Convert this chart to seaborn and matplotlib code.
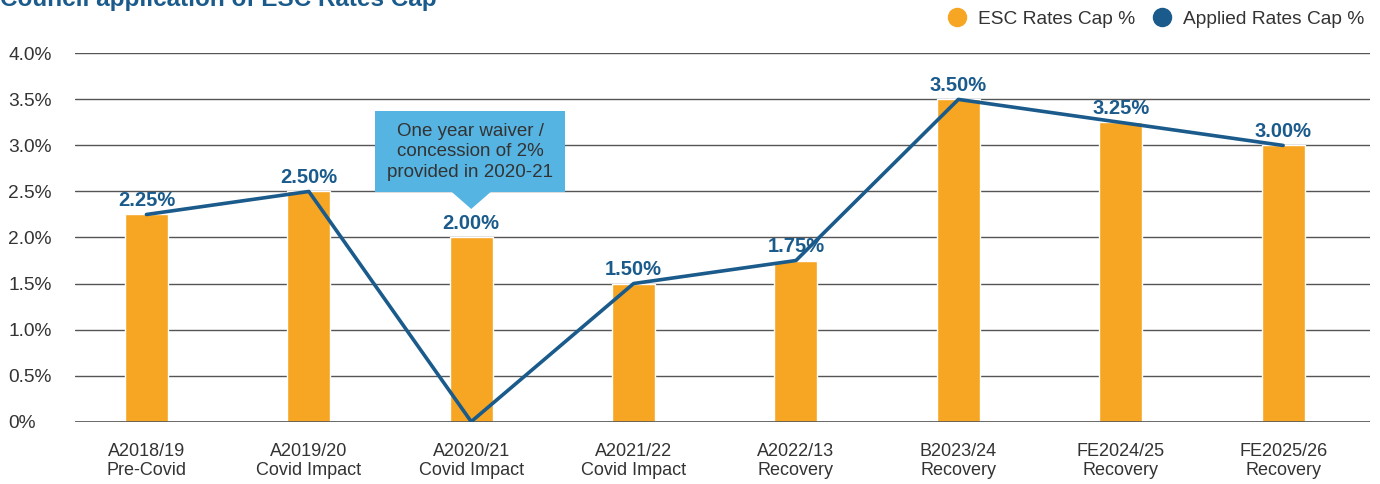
import numpy as np
import seaborn as sns
import matplotlib
matplotlib.use("Agg")
import matplotlib.pyplot as plt
from matplotlib.lines import Line2D
from matplotlib.patches import Rectangle, Polygon

years = ["A2018/19", "A2019/20", "A2020/21", "A2021/22",
         "A2022/13", "B2023/24", "FE2024/25", "FE2025/26"]
phases = ["Pre-Covid", "Covid Impact", "Covid Impact", "Covid Impact",
          "Recovery", "Recovery", "Recovery", "Recovery"]
esc_cap = [2.25, 2.50, 2.00, 1.50, 1.75, 3.50, 3.25, 3.00]
applied_cap = [2.25, 2.50, 0.00, 1.50, 1.75, 3.50, 3.25, 3.00]
y_ticks = [0, 0.5, 1.0, 1.5, 2.0, 2.5, 3.0, 3.5, 4.0]
y_labels = ["0%", "0.5%", "1.0%", "1.5%", "2.0%", "2.5%", "3.0%", "3.5%", "4.0%"]

orange = "#F6A623"
blue = "#1A5B8C"
grey_text = "#333333"

sns.set_theme(style="white")
plt.rcParams["font.family"] = ["Liberation Sans", "DejaVu Sans"]

fig = plt.figure(figsize=(13.8, 4.84), dpi=100)
ax = fig.add_axes([75 / 1380, 1 - 422 / 484, (1370 - 75) / 1380, (422 - 53) / 484])

labels = [f"{y}\n{p}" for y, p in zip(years, phases)]
x = np.arange(len(years))

sns.barplot(x=labels, y=esc_cap, color=orange, saturation=1, width=0.265,
            ax=ax, zorder=2)
ax.axhline(0, color="#555555", linewidth=1.2, zorder=2.5)
sns.lineplot(x=x, y=applied_cap, color=blue, linewidth=2.6, ax=ax, zorder=3)

for xi, v in zip(x, esc_cap):
    ax.annotate(f"{v:.2f}%", (xi, v), xytext=(0, 3), textcoords="offset points",
                ha="center", va="bottom", fontsize=14.5, fontweight="bold",
                color=blue, zorder=4)

# callout box
ax.add_patch(Rectangle((1.41, 2.49), 1.17, 0.88, facecolor="#56B4E3",
                       edgecolor="none", zorder=4))
ax.add_patch(Polygon([(1.88, 2.495), (2.12, 2.495), (2.0, 2.31)],
                     closed=True, facecolor="#56B4E3", edgecolor="none", zorder=4))
ax.text(1.995, 2.93, "One year waiver /\nconcession of 2%\nprovided in 2020-21",
        ha="center", va="center", fontsize=13.5, color=grey_text,
        linespacing=1.28, zorder=5)

ax.set_xlim(-0.44, 7.535)
ax.set_ylim(-0.004, 4.004)
ax.set_yticks(y_ticks)
ax.set_yticklabels(y_labels)
ax.yaxis.grid(True, color="#555555", linewidth=1)
ax.set_axisbelow(True)
for s in ax.spines.values():
    s.set_visible(False)
ax.tick_params(axis="y", length=0, pad=48, labelsize=13.8, labelcolor=grey_text)
for t in ax.get_yticklabels():
    t.set_horizontalalignment("left")
ax.tick_params(axis="x", length=0, pad=15, labelsize=13, labelcolor=grey_text)
for t in ax.get_xticklabels():
    t.set_linespacing(1.15)
ax.set_xlabel("")
ax.set_ylabel("")

fig.text(0.0, 1 - 6 / 484, "Council application of ESC Rates Cap",
         fontsize=17.5, fontweight="bold", color=blue, va="baseline", ha="left")

handles = [
    Line2D([], [], marker="o", linestyle="none", markersize=13,
           markerfacecolor=orange, markeredgecolor=orange),
    Line2D([], [], marker="o", linestyle="none", markersize=13,
           markerfacecolor=blue, markeredgecolor=blue),
]
fig.legend(handles, ["ESC Rates Cap %", "Applied Rates Cap %"], ncol=2,
           loc="center right", bbox_to_anchor=(1372 / 1380, 1 - 19 / 484),
           frameon=False, fontsize=13.8, handletextpad=0.1, columnspacing=0.4,
           borderaxespad=0, labelcolor=grey_text)

fig.savefig("out.png", dpi=100)
